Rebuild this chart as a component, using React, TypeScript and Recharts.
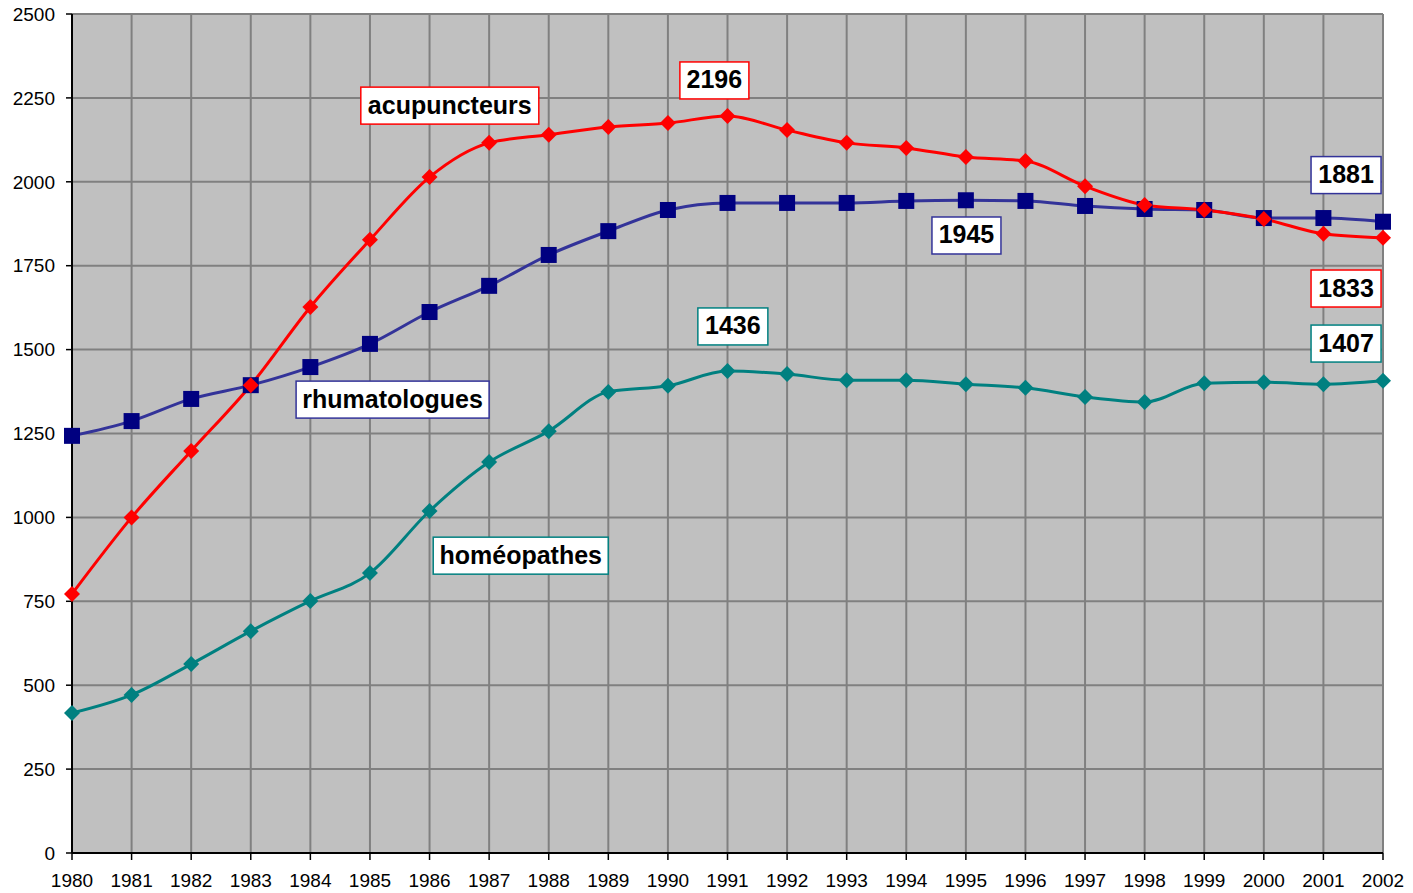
import {
  LineChart,
  Line,
  XAxis,
  YAxis,
  CartesianGrid,
  ReferenceDot,
} from "recharts";

const years = [
  1980, 1981, 1982, 1983, 1984, 1985, 1986, 1987, 1988, 1989, 1990, 1991,
  1992, 1993, 1994, 1995, 1996, 1997, 1998, 1999, 2000, 2001, 2002,
];

const acupuncteurs = [
  772, 1000, 1198, 1394, 1627, 1827, 2014, 2116, 2140, 2163, 2175, 2196,
  2154, 2116, 2101, 2074, 2062, 1987, 1931, 1916, 1889, 1845, 1833,
];

const rhumatologues = [
  1243, 1287, 1353, 1394, 1448, 1517, 1612, 1690, 1782, 1853, 1916, 1937,
  1937, 1937, 1943, 1945, 1943, 1928, 1919, 1916, 1892, 1892, 1881,
];

const homeopathes = [
  417, 471, 563, 661, 751, 834, 1019, 1165, 1257, 1374, 1392, 1436, 1427,
  1409, 1409, 1397, 1386, 1359, 1344, 1400, 1403, 1397, 1407,
];

const yTicks = [0, 250, 500, 750, 1000, 1250, 1500, 1750, 2000, 2250, 2500];

// annotation boxes: centre in data space (year, value)
const labels = [
  { text: "acupuncteurs", year: 1986.34, value: 2227, w: 178, color: "#FF0000" },
  { text: "2196", year: 1990.78, value: 2302, w: 69, color: "#FF0000" },
  { text: "rhumatologues", year: 1985.38, value: 1351, w: 193, color: "#333399" },
  { text: "1945", year: 1995.01, value: 1840, w: 69, color: "#333399" },
  { text: "1881", year: 2001.38, value: 2020, w: 70, color: "#333399" },
  { text: "1833", year: 2001.38, value: 1682, w: 70, color: "#FF0000" },
  { text: "1436", year: 1991.09, value: 1569, w: 70, color: "#008080" },
  { text: "1407", year: 2001.38, value: 1518, w: 70, color: "#008080" },
  { text: "homéopathes", year: 1987.53, value: 886, w: 175, color: "#008080" },
];

const data = years.map((year, i) => ({
  year,
  acupuncteurs: acupuncteurs[i],
  rhumatologues: rhumatologues[i],
  homeopathes: homeopathes[i],
}));

const font = "'Liberation Sans', Arial, sans-serif";

const diamond = (fill: string, h: number) => (props: any) => {
  const { cx, cy, index } = props;
  if (cx == null || cy == null) return <g key={index} />;
  return (
    <path
      key={index}
      d={`M${cx},${cy - h} L${cx + h},${cy} L${cx},${cy + h} L${cx - h},${cy} Z`}
      fill={fill}
    />
  );
};

const square = (fill: string, s: number) => (props: any) => {
  const { cx, cy, index } = props;
  if (cx == null || cy == null) return <g key={index} />;
  return <rect key={index} x={cx - s / 2} y={cy - s / 2} width={s} height={s} fill={fill} />;
};

const labelBox = (text: string, w: number, color: string) => (props: any) => {
  const { cx, cy } = props;
  const h = 37;
  return (
    <g>
      <rect
        x={cx - w / 2}
        y={cy - h / 2}
        width={w}
        height={h}
        fill="#FFFFFF"
        stroke={color}
        strokeWidth={1.5}
      />
      <text
        x={cx}
        y={cy - 1}
        textAnchor="middle"
        dominantBaseline="central"
        fontFamily={font}
        fontWeight="bold"
        fontSize={25}
        fill="#000000"
      >
        {text}
      </text>
    </g>
  );
};

export default function App() {
  return (
    <div style={{ position: "absolute", left: 0, top: 0, background: "#fff" }}>
      <LineChart
        width={1413}
        height={893}
        data={data}
        margin={{ top: 14, right: 30, left: 0, bottom: 0 }}
      >
        <CartesianGrid
          stroke="#808080"
          strokeWidth={2}
          fill="#C0C0C0"
          fillOpacity={1}
        />
        <XAxis
          dataKey="year"
          type="number"
          domain={[1980, 2002]}
          ticks={years}
          interval={0}
          height={40}
          axisLine={{ stroke: "#000", strokeWidth: 2 }}
          tickLine={{ stroke: "#000", strokeWidth: 1.5 }}
          tickSize={7}
          tickMargin={14}
          tick={{ fill: "#000", fontSize: 19, fontFamily: font }}
        />
        <YAxis
          domain={[0, 2500]}
          ticks={yTicks}
          interval={0}
          width={72}
          axisLine={{ stroke: "#000", strokeWidth: 2 }}
          tickLine={{ stroke: "#000", strokeWidth: 1.5 }}
          tickSize={6}
          tickMargin={11}
          tick={{ fill: "#000", fontSize: 19, fontFamily: font }}
        />
        <Line
          type="monotone"
          dataKey="homeopathes"
          stroke="#008080"
          strokeWidth={3}
          dot={diamond("#008080", 8)}
          isAnimationActive={false}
        />
        <Line
          type="monotone"
          dataKey="rhumatologues"
          stroke="#333399"
          strokeWidth={3}
          dot={square("#000080", 16)}
          isAnimationActive={false}
        />
        <Line
          type="monotone"
          dataKey="acupuncteurs"
          stroke="#FF0000"
          strokeWidth={3}
          dot={diamond("#FF0000", 8)}
          isAnimationActive={false}
        />
        {labels.map((l) => (
          <ReferenceDot
            key={l.text}
            x={l.year}
            y={l.value}
            r={0}
            ifOverflow="visible"
            shape={labelBox(l.text, l.w, l.color)}
          />
        ))}
      </LineChart>
    </div>
  );
}
